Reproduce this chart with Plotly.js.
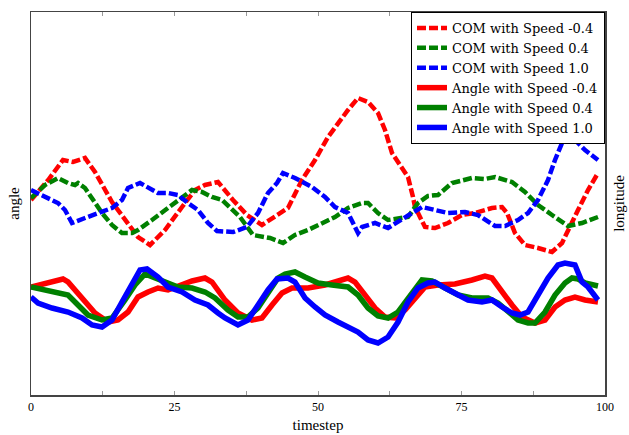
<!DOCTYPE html>
<html>
<head>
<meta charset="utf-8">
<script src="https://cdn.plot.ly/plotly-3.0.1.min.js"></script>
<style>html,body{margin:0;padding:0;background:#fff;}#chart{width:629px;height:435px;}</style>
</head>
<body>
<div id="chart"></div>
<script>
// COM (longitude) series, right axis
const comNeg04_t = [0,3.0,5.57,7.32,9.41,11.15,14.11,16.38,18.64,20.73,23.34,26.31,28.57,30.31,31.53,32.58,35.19,37.63,40.24,42.51,44.77,47.21,49.48,51.74,53.48,55.23,56.97,58.71,60.45,61.67,62.89,64.63,65.68,66.55,66.9,68.64,70.38,72.65,75.09,77.35,79.09,80.31,82.06,82.93,84.32,86.06,88.33,90.77,92.51,93.55,95.3,97.04,98.78];
const comNeg04_v = [48.75,53.75,58.75,58.25,59.25,55.75,48.25,43.75,39.5,37.5,41.25,47,51.25,52.5,53,53.25,48.75,45,42.5,44.5,46.75,53.75,58.75,64.5,68,71.25,74.25,73.25,70.5,66.25,60.5,56.75,54.5,49.5,47,42,41.75,43,45,45.5,46.25,46.75,47,45.5,40.5,37.5,36.75,35.75,38,41.25,46.25,51.25,55.5];

const com04_t = [0,2.44,4.7,6.45,7.67,8.19,9.41,11.15,12.37,14.11,15.85,17.6,18.64,21.08,23.34,25.61,28.05,29.79,31.53,33.28,34.67,36.41,38.68,41.64,43.9,45.99,48.26,50.7,52.96,55.23,57.67,58.71,60.45,62.2,63.94,65.68,67.42,69.16,70.91,73.34,76.83,79.09,80.84,83.8,86.06,88.33,90.77,93.55,95.99,98.78];
const com04_v = [49.25,52.5,54.25,53,52.5,53,51.75,48,45.5,42.5,40.5,40.5,41.25,43.75,46.25,48.75,51.25,50.75,49.5,48.75,47,44.5,40,39.25,38,40,41.25,43,44.5,46.75,48,48,45.5,43.75,44.25,44.5,48,49.75,50,53,54.25,54,54.5,53.25,50.75,47.5,45,42.25,43,44.5];

const com10_t = [0,2.44,4.7,5.92,7.14,9.41,11.67,14.11,15.85,16.9,18.99,20.38,22.13,23.87,25.61,27.35,29.09,30.84,32.4,35.19,37.63,39.55,41.29,42.86,43.9,45.99,48.95,51.22,52.96,55.23,56.45,56.97,57.67,59.93,62.2,64.63,66.38,68.12,70.38,72.65,75.61,77.87,80.84,82.58,84.84,86.59,88.33,90.07,91.29,92.51,93.38,94.77,96.52,98.78];
const com10_v = [51.25,49.5,48,46.25,43,44.25,45.5,46.75,48.75,51.75,53,52,50.5,50.5,50,48,46.25,43,41,40.75,42,45.5,50.5,53,55.5,54.25,52,49.5,47,45.5,42,40.5,42,43,41.75,43.75,45.5,47,46.25,45.5,45.75,45,42.25,42.25,43.75,45.5,48.75,53.75,58.75,63,64.5,63.75,61.25,58.75];

// Angle series, left axis
const angNeg04_t = [0,2.44,5.57,6.45,8.89,11.15,13.41,15.16,16.9,18.64,20.38,22.13,23.87,26.31,28.05,30.31,31.53,33.8,36.06,38.5,40.24,41.99,43.73,45.47,48.26,51.22,53.48,55.23,56.45,58.19,59.93,61.67,63.41,65.16,66.9,68.64,70.91,73.87,76.83,79.09,80.31,82.06,83.8,85.54,87.8,89.55,91.29,93.03,94.77,96.52,98.78];
const angNeg04_v = [27,28,29,28.25,24.25,20.5,18.25,18.75,20.75,24.5,25.75,26.75,26.25,27.5,28.5,29.25,28.25,23.75,20.5,18.75,19.25,22.5,25.5,26.75,26.75,27.5,28.5,29.25,28.25,25,21.75,19.5,19.25,21.25,24.25,27,27.5,27.75,28.75,29.75,29.25,25.75,22.5,19.5,18,18.75,22,23.75,24.5,23.75,23.25];

const ang04_t = [0,2.44,4.7,6.45,8.19,9.93,12.37,14.11,16.38,18.12,19.86,21.6,23.34,25.61,28.05,30.31,32.06,34.32,36.06,37.8,39.55,41.29,43.03,44.25,45.99,47.74,50,52.44,55.23,56.97,58.71,60.45,62.2,63.94,65.68,66.9,68.12,69.86,72.13,74.39,76.83,79.62,81.36,83.1,84.84,86.59,87.8,89.55,91.29,93.03,94.25,95.3,96.52,98.78];
const ang04_v = [27,26.25,25.75,25,22.5,20,18.75,19.25,23.75,27.5,30.25,29.25,28,27,26.75,25.75,24.25,21.25,19.5,19.5,21.75,25.75,29.25,30.25,30.75,29.5,28,27.5,27,25,21.75,19.75,19.25,20.75,24.25,26.75,28.75,28.5,26.75,25,24.25,24.25,23,20.75,18.75,18,18,20.75,25,28,29.25,29,28,27.25];

const ang10_t = [0,1.22,3.66,6.45,8.89,10.63,12.37,14.11,15.85,17.6,18.99,20.21,22.13,23.87,26.31,28.57,30.84,32.58,33.8,36.06,37.8,39.55,41.29,42.86,44.77,45.99,47.74,49.48,51.22,53.48,55.23,56.97,58.71,60.45,62.2,63.94,65.68,67.42,69.16,70.38,72.13,73.87,76.13,78.57,80.31,82.06,83.8,85.19,86.59,88.33,90.07,91.81,93.03,94.77,96,97.04,98.78];
const ang10_v = [24.5,23,21.75,20.75,19.25,17.5,17,18.75,23.25,27.5,31.25,31.5,29.5,27,25.75,23.75,22.5,20.5,19.25,17.5,18.75,22.5,26.25,29,29.25,28.25,24.25,22,20,18.25,17,15.75,13.75,13,14.5,18.25,23.25,26.75,28,28.25,26.75,25.5,23.75,23.25,23.75,22,20.5,20,20.75,25,29.25,32.5,33,32.5,28.25,27,23.75];

const xTickVals = [0,12.5,25,37.5,50,62.5,75,87.5,100];
const xTickText = ['0','','25','','50','','75','','100'];

const seriesNames = ['COM with Speed -0.4','COM with Speed 0.4','COM with Speed 1.0','Angle with Speed -0.4','Angle with Speed 0.4','Angle with Speed 1.0'];
const colors = ['#ff0000','#008000','#0000ff'];

const dashPattern = '9px,3px';
const traces = [
  {x: comNeg04_t, y: comNeg04_v, name: seriesNames[0], yaxis: 'y2', line: {color: colors[0], width: 4.5, dash: dashPattern}},
  {x: com04_t, y: com04_v, name: seriesNames[1], yaxis: 'y2', line: {color: colors[1], width: 4.5, dash: dashPattern}},
  {x: com10_t, y: com10_v, name: seriesNames[2], yaxis: 'y2', line: {color: colors[2], width: 4.5, dash: dashPattern}},
  {x: angNeg04_t, y: angNeg04_v, name: seriesNames[3], line: {color: colors[0], width: 5.5}},
  {x: ang04_t, y: ang04_v, name: seriesNames[4], line: {color: colors[1], width: 5.5}},
  {x: ang10_t, y: ang10_v, name: seriesNames[5], line: {color: colors[2], width: 5.5}}
].map(t => Object.assign({type: 'scatter', mode: 'lines', hoverinfo: 'skip'}, t));

const fam = 'Liberation Serif, DejaVu Serif, serif';
const f = (size, family) => ({family: family || fam, size: size, color: '#000'});
const axisColor = '#444';

const layout = {
  width: 629, height: 435,
  margin: {l: 31, r: 24, t: 12, b: 40},
  paper_bgcolor: '#fff', plot_bgcolor: '#fff',
  font: f(12),
  showlegend: true,
  legend: {
    x: 1, y: 1, xanchor: 'right', yanchor: 'top',
    bgcolor: '#fff', bordercolor: '#000', borderwidth: 1,
    font: f(13, 'DejaVu Serif, Liberation Serif, serif'),
    itemwidth: 30, tracegroupgap: 0
  },
  xaxis: {
    range: [0, 100], tickvals: xTickVals, ticktext: xTickText,
    ticks: 'inside', ticklen: 4, tickcolor: '#999', tickwidth: 1,
    showgrid: false, zeroline: false,
    showline: true, linecolor: axisColor, linewidth: 1.5, mirror: 'ticks',
    tickfont: f(12),
    title: {text: 'timestep', font: f(15), standoff: 6}
  },
  yaxis: {
    range: [0, 95.75], showticklabels: false, ticks: '',
    showgrid: false, zeroline: false,
    showline: true, linecolor: axisColor, linewidth: 1.5, mirror: true,
    title: {text: 'angle', font: f(15), standoff: 6}
  },
  yaxis2: {
    range: [0, 95.75], overlaying: 'y', side: 'right', showticklabels: false, ticks: '',
    showgrid: false, zeroline: false, showline: false,
    title: {text: 'longitude', font: f(15), standoff: 8}
  }
};

Plotly.newPlot('chart', traces, layout, {displayModeBar: false, staticPlot: true});
</script>
</body>
</html>
